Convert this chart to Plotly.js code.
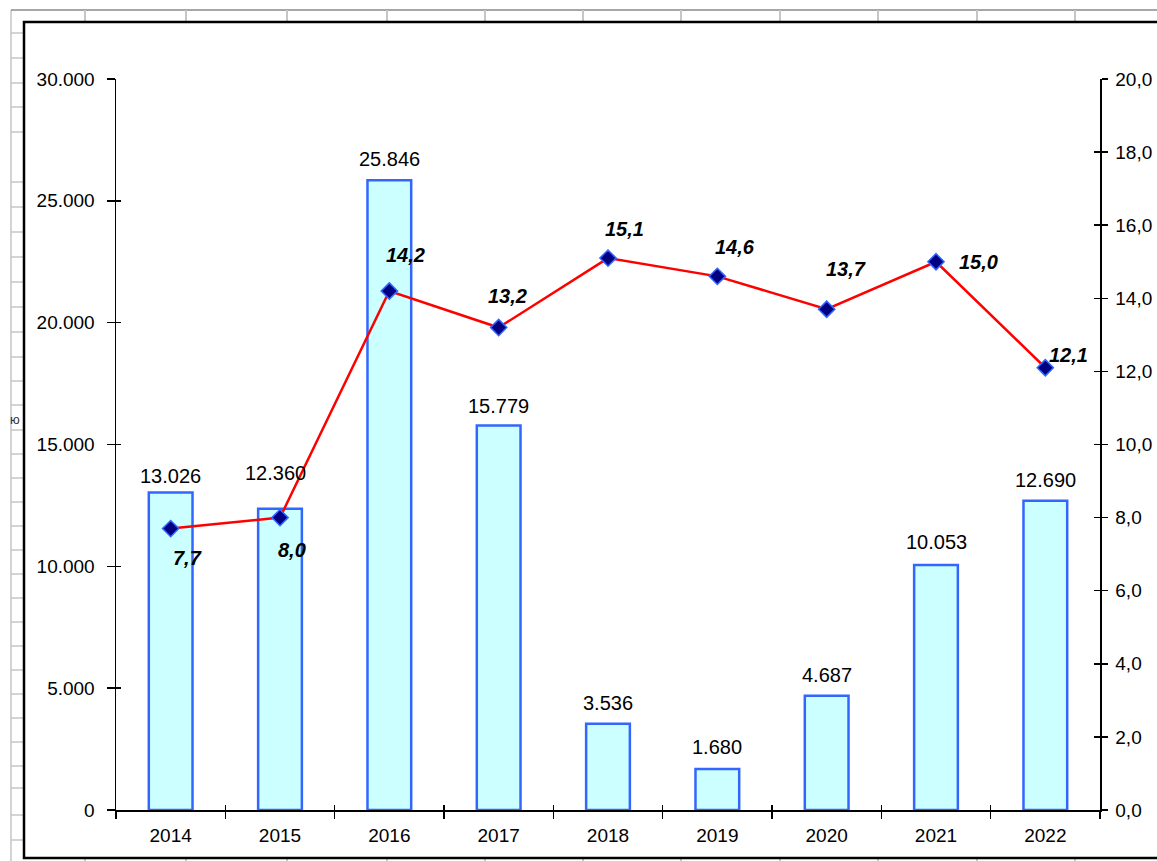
<!DOCTYPE html>
<html>
<head>
<meta charset="utf-8">
<script src="https://cdn.plot.ly/plotly-3.0.1.min.js"></script>
<style>
html, body { margin: 0; padding: 0; background: #ffffff; }
#chart { width: 1157px; height: 861px; }
</style>
</head>
<body>
<div id="chart"></div>
<script>
// ---- data ----
const years = ['2014', '2015', '2016', '2017', '2018', '2019', '2020', '2021', '2022'];
const barValues = [13026, 12360, 25846, 15779, 3536, 1680, 4687, 10053, 12690];
const lineValues = [7.7, 8.0, 14.2, 13.2, 15.1, 14.6, 13.7, 15.0, 12.1];

// ---- label placement (pixels) ----
const barLabelShiftY = [17, 36, 21, 20, 21, 22, 21, 23, 21];
const barLabelShiftX = [0, -5, 0, 0, 0, 0, 0, 0, 0];
const lineLabelShiftX = [17, 12, 16, 9, 16, 18, 19, 42, 23];
const lineLabelShiftY = [-29, -32, 36, 32, 29, 29, 40, 0, 13];

// ---- layout geometry ----
const W = 1157, H = 861;
const L = 116, R = 1100, T = 79, B = 810;
const px = x => (x - L) / (R - L);
const py = y => (B - y) / (B - T);

const FONT = 'Liberation Sans, Arial, sans-serif';

function fmtThousands(v) {
  return String(v).replace(/\B(?=(\d{3})+(?!\d))/g, '.');
}
function fmtDec(v) {
  return v.toFixed(1).replace('.', ',');
}

const traces = [
  {
    type: 'bar',
    x: years,
    y: barValues,
    width: 0.4,
    marker: { color: '#CCFFFF', line: { color: '#3366FF', width: 2.5 } },
    hoverinfo: 'skip',
    showlegend: false
  },
  {
    type: 'scatter',
    mode: 'lines+markers',
    x: years,
    y: lineValues,
    yaxis: 'y2',
    line: { color: '#FF0000', width: 2.5 },
    marker: { symbol: 'diamond', size: 12.5, color: '#000080', line: { color: '#3366FF', width: 1.5 } },
    hoverinfo: 'skip',
    showlegend: false
  },
  // invisible helper traces so the inner tick overlays are drawn
  {
    type: 'scatter', mode: 'markers', x: years, y: barValues,
    xaxis: 'x2', yaxis: 'y3', marker: { opacity: 0 }, hoverinfo: 'skip', showlegend: false
  },
  {
    type: 'scatter', mode: 'markers', x: years, y: lineValues,
    xaxis: 'x2', yaxis: 'y4', marker: { opacity: 0 }, hoverinfo: 'skip', showlegend: false
  }
];

const annotations = [];
years.forEach((yr, i) => {
  // on a category axis annotations are positioned by category index
  annotations.push({
    x: i, y: barValues[i], xref: 'x', yref: 'y',
    text: fmtThousands(barValues[i]),
    showarrow: false, xanchor: 'center', yanchor: 'middle',
    xshift: barLabelShiftX[i], yshift: barLabelShiftY[i],
    font: { family: FONT, size: 20, color: '#000000' }
  });
  annotations.push({
    x: i, y: lineValues[i], xref: 'x', yref: 'y2',
    text: '<b><i>' + fmtDec(lineValues[i]) + '</i></b>',
    showarrow: false, xanchor: 'center', yanchor: 'middle',
    xshift: lineLabelShiftX[i], yshift: lineLabelShiftY[i],
    font: { family: FONT, size: 20, color: '#000000' }
  });
});
// clipped spreadsheet cell text at the left edge
annotations.push({
  x: px(15), y: py(419), xref: 'paper', yref: 'paper',
  text: 'ю', showarrow: false, xanchor: 'center', yanchor: 'middle',
  font: { family: FONT, size: 13, color: '#333333' }
});

// spreadsheet background + chart frame
const shapes = [];
const gridCol = '#c6c6c6';
const cols = [85, 186, 287, 387, 485, 583, 681, 780, 878, 977, 1075];
const rows = [33, 58, 83, 107, 132, 182, 207, 232, 257, 282, 307, 332, 357, 381, 405,
              430, 454, 478, 502, 526, 550, 574, 598, 622, 646, 670, 694, 718, 742, 766, 788, 815, 840];
function seg(x0, y0, x1, y1, color, width) {
  shapes.push({ type: 'line', xref: 'paper', yref: 'paper',
    x0: px(x0), y0: py(y0), x1: px(x1), y1: py(y1),
    line: { color: color, width: width } });
}
seg(11, 10, 11, 861, gridCol, 1.5);
seg(11, 10, 1160, 10, '#8a8a8a', 1.5);
cols.forEach(c => { seg(c, 10, c, 22, gridCol, 2); seg(c, 858, c, 861, gridCol, 2); });
rows.forEach(r => seg(11, r, 24, r, gridCol, 1.5));
shapes.push({ type: 'rect', xref: 'paper', yref: 'paper',
  x0: px(24), y0: py(22), x1: px(1175), y1: py(858),
  line: { color: '#000000', width: 2.5 }, fillcolor: 'rgba(0,0,0,0)' });

const tickFont = { family: FONT, size: 19, color: '#000000' };

const layout = {
  width: W, height: H,
  margin: { l: L, r: W - R, t: T, b: H - B, pad: 0 },
  paper_bgcolor: '#ffffff',
  plot_bgcolor: 'rgba(0,0,0,0)',
  separators: ',.',
  showlegend: false,
  font: { family: FONT, color: '#000000' },
  xaxis: {
    type: 'category', categoryorder: 'array', categoryarray: years,
    range: [-0.5, 8.5],
    showline: true, linecolor: '#000000', linewidth: 1.5,
    ticks: 'outside', ticklen: 7, tickcolor: '#000000', tickwidth: 1.5,
    tickson: 'boundaries',
    showgrid: false, zeroline: false,
    tickfont: tickFont, ticklabelstandoff: 8
  },
  xaxis2: {
    type: 'category', categoryorder: 'array', categoryarray: years,
    range: [-0.5, 8.5], overlaying: 'x', anchor: 'y',
    showline: false, ticks: 'inside', ticklen: 5, tickcolor: '#000000', tickwidth: 1.5,
    tickson: 'boundaries', showticklabels: false, showgrid: false, zeroline: false
  },
  yaxis: {
    range: [0, 30000], dtick: 5000, tick0: 0, tickformat: ',d',
    showline: true, linecolor: '#000000', linewidth: 1.5,
    ticks: 'outside', ticklen: 8, tickcolor: '#000000', tickwidth: 1.5,
    showgrid: false, zeroline: false,
    tickfont: tickFont, ticklabelstandoff: 8
  },
  yaxis2: {
    range: [0, 20], dtick: 2, tick0: 0, tickformat: '.1f',
    overlaying: 'y', side: 'right', anchor: 'x',
    showline: true, linecolor: '#000000', linewidth: 1.5,
    ticks: 'outside', ticklen: 6, tickcolor: '#000000', tickwidth: 1.5,
    showgrid: false, zeroline: false,
    tickfont: tickFont, ticklabelstandoff: 4
  },
  yaxis3: {
    range: [0, 30000], dtick: 5000, tick0: 0, overlaying: 'y', side: 'left', anchor: 'x2',
    showline: false, ticks: 'inside', ticklen: 5, tickcolor: '#000000', tickwidth: 1.5,
    showticklabels: false, showgrid: false, zeroline: false
  },
  yaxis4: {
    range: [0, 20], dtick: 2, tick0: 0, overlaying: 'y', side: 'right', anchor: 'x2',
    showline: false, ticks: 'inside', ticklen: 6, tickcolor: '#000000', tickwidth: 1.5,
    showticklabels: false, showgrid: false, zeroline: false
  },
  annotations: annotations,
  shapes: shapes
};

Plotly.newPlot('chart', traces, layout, { displayModeBar: false, staticPlot: true });
</script>
</body>
</html>
